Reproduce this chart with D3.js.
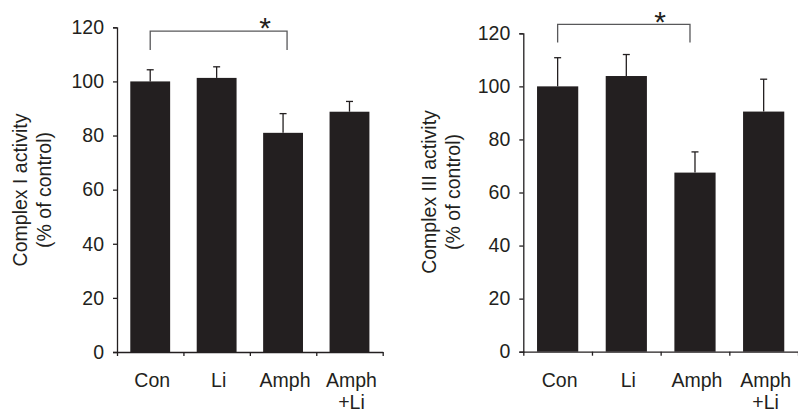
<!DOCTYPE html>
<html>
<head>
<meta charset="utf-8">
<script src="https://cdn.jsdelivr.net/npm/d3@7"></script>
<style>
  html, body { margin: 0; padding: 0; background: #fff; }
  svg { display: block; font-family: "Liberation Sans", Arial, sans-serif; }
</style>
</head>
<body>
<svg width="798" height="414"></svg>
<script>
const groups = ['Con', 'Li', 'Amph', 'Amph+Li']
const yTicks = [0, 20, 40, 60, 80, 100, 120]

const complexIMeans = [100, 101.3, 81, 88.8]
const complexIErrors = [4.3, 4.1, 7.1, 3.8]
const complexIIIMeans = [100, 103.9, 67.5, 90.5]
const complexIIIErrors = [10.8, 8.1, 7.8, 12.2]

const ink = '#231f20'
const fontSize = '19.5px'
const svg = d3.select('svg')

const drawPanel = (opts) => {
  const { means, errors, label, left, right, top, bottom, bracket } = opts
  const g = svg.append('g')

  const yScale = d3.scaleLinear().domain([0, 120]).range([bottom, top])
  const xBand = d3.scaleBand().domain(groups).range([left, right]).paddingInner(0.4).paddingOuter(0.2)
  const xEdges = d3.scaleLinear().domain([0, groups.length]).range([left, right])

  // y axis
  const yAxis = d3.axisLeft(yScale).tickValues(yTicks).tickSize(4).tickPadding(9)
  const ya = g.append('g').attr('transform', `translate(${left},0)`).call(yAxis)
  ya.select('.domain').attr('stroke', ink).attr('stroke-width', 1.3)
  ya.selectAll('.tick line').attr('stroke', ink).attr('stroke-width', 1.3)
  ya.selectAll('.tick text').attr('fill', ink).style('font-size', fontSize)
    .style('font-family', '"Liberation Sans", Arial, sans-serif')

  // x axis: ticks at band edges
  const xAxis = d3.axisBottom(xEdges).tickValues(d3.range(groups.length + 1)).tickFormat('').tickSizeInner(4).tickSizeOuter(0)
  const xa = g.append('g').attr('transform', `translate(0,${bottom})`).call(xAxis)
  xa.select('.domain').attr('stroke', ink).attr('stroke-width', 1.3)
  xa.selectAll('.tick line').attr('stroke', ink).attr('stroke-width', 1.3)

  // bars
  g.selectAll('rect.bar')
    .data(means)
    .join('rect')
    .classed('bar', true)
    .attr('x', (d, i) => xBand(groups[i]))
    .attr('width', xBand.bandwidth())
    .attr('y', d => yScale(d))
    .attr('height', d => bottom - yScale(d))
    .attr('fill', ink)

  // error bars (upper only)
  const capHalf = 3.5
  means.forEach((m, i) => {
    const cx = xBand(groups[i]) + xBand.bandwidth() / 2
    const yTop = yScale(m + errors[i])
    g.append('line').attr('x1', cx).attr('x2', cx).attr('y1', yScale(m)).attr('y2', yTop)
      .attr('stroke', ink).attr('stroke-width', 1.3)
    g.append('line').attr('x1', cx - capHalf).attr('x2', cx + capHalf).attr('y1', yTop).attr('y2', yTop)
      .attr('stroke', ink).attr('stroke-width', 1.3)
  })

  // x labels
  groups.forEach(name => {
    const cx = xBand(name) + xBand.bandwidth() / 2 + 2
    const parts = name === 'Amph+Li' ? ['Amph', '+Li'] : [name]
    parts.forEach((p, k) => {
      g.append('text').text(p)
        .attr('x', cx).attr('y', bottom + 35 + k * 22)
        .attr('text-anchor', 'middle')
        .attr('fill', ink)
        .style('font-size', fontSize)
    })
  })

  // y label
  const midY = opts.labelY
  label.forEach((line, k) => {
    g.append('text').text(line)
      .attr('transform', `translate(${opts.labelX + k * 24},${midY})rotate(-90)`)
      .attr('text-anchor', 'middle')
      .attr('fill', ink)
      .style('font-size', fontSize)
  })

  // significance bracket
  const bx1 = xBand(groups[bracket.from]) + xBand.bandwidth() / 2
  const bx2 = xBand(groups[bracket.to]) + xBand.bandwidth() / 2 + bracket.shift
  const by = yScale(bracket.y)
  const byEnd = yScale(bracket.yEnd)
  g.append('path')
    .attr('d', `M${bx1},${byEnd}V${by}H${bx2}V${byEnd}`)
    .attr('fill', 'none')
    .attr('stroke', '#58585a')
    .attr('stroke-width', 1.3)
  g.append('text').text('*')
    .attr('x', bx2 + bracket.starDx).attr('y', by + bracket.starDy)
    .attr('text-anchor', 'middle')
    .attr('fill', ink)
    .style('font-size', '30px')
}

drawPanel({
  means: complexIMeans, errors: complexIErrors,
  label: ['Complex I activity', '(% of control)'],
  left: 117, right: 382.7, top: 27.3, bottom: 352, labelX: 27, labelY: 190,
  bracket: { from: 0, to: 2, y: 118.6, yEnd: 111.6, shift: 4, starDx: -22, starDy: 7 }
})

drawPanel({
  means: complexIIIMeans, errors: complexIIIErrors,
  label: ['Complex III activity', '(% of control)'],
  left: 523.3, right: 798, top: 33.3, bottom: 351.7, labelX: 436, labelY: 192,
  bracket: { from: 0, to: 2, y: 123.4, yEnd: 116.5, shift: -5, starDx: -30, starDy: 8 }
})
</script>
</body>
</html>
